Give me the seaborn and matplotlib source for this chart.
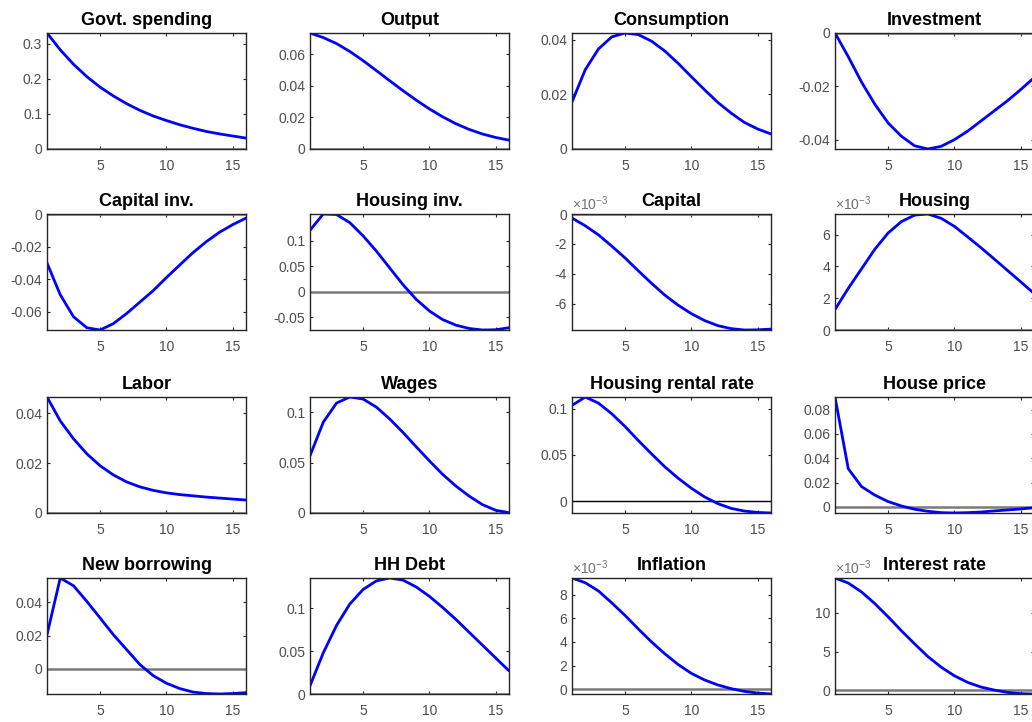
import seaborn as sns
import matplotlib.pyplot as plt
from matplotlib.ticker import FixedLocator, FuncFormatter

# impulse responses to a government spending shock, quarters 1..16
periods = list(range(1, 17))

govt_spending = [0.330, 0.282, 0.241, 0.206, 0.176, 0.151, 0.129, 0.110,
                 0.094, 0.081, 0.069, 0.059, 0.050, 0.043, 0.037, 0.031]
output = [0.0735, 0.0706, 0.0668, 0.0618, 0.0560, 0.0497, 0.0433, 0.0370,
          0.0310, 0.0254, 0.0204, 0.0160, 0.0124, 0.0095, 0.0073, 0.0056]
consumption = [0.0172, 0.029, 0.0366, 0.041, 0.0424, 0.0418, 0.0394, 0.0358,
               0.0313, 0.0264, 0.0216, 0.017, 0.0131, 0.0097, 0.0073, 0.0055]
investment = [0.0, -0.0089, -0.0184, -0.0267, -0.0337, -0.0387, -0.0423, -0.0435,
              -0.0425, -0.0400, -0.0368, -0.0330, -0.0292, -0.0254, -0.0212, -0.0168]
capital_inv = [-0.0300, -0.0495, -0.0630, -0.0697, -0.0711, -0.0672, -0.0610, -0.0540,
               -0.0470, -0.0390, -0.0313, -0.0237, -0.0170, -0.0112, -0.0065, -0.0025]
housing_inv = [0.121, 0.153, 0.152, 0.136, 0.110, 0.080, 0.047, 0.014,
               -0.015, -0.038, -0.055, -0.066, -0.0725, -0.0755, -0.075, -0.071]
capital = [-0.00027, -0.00079, -0.0014, -0.00215, -0.00294, -0.0038, -0.00464, -0.00543,
           -0.0061, -0.00667, -0.00713, -0.00747, -0.00767, -0.00776, -0.00775, -0.0077]
housing = [0.00129, 0.00262, 0.00385, 0.00508, 0.0061, 0.00682, 0.00723, 0.0073,
           0.00703, 0.00652, 0.00586, 0.00518, 0.00447, 0.00375, 0.00303, 0.0023]
labor = [0.0466, 0.0370, 0.0298, 0.0238, 0.0190, 0.0153, 0.0125, 0.0105,
         0.0091, 0.0081, 0.0074, 0.0069, 0.0064, 0.0060, 0.0056, 0.0052]
wages = [0.0567, 0.090, 0.109, 0.115, 0.113, 0.105, 0.0933, 0.080,
         0.0657, 0.0517, 0.0383, 0.0267, 0.0167, 0.0083, 0.0027, 0.0003]
rental_rate = [0.1036, 0.1127, 0.106, 0.0945, 0.0807, 0.0655, 0.051, 0.037,
               0.0247, 0.0138, 0.0044, -0.0029, -0.008, -0.0109, -0.0124, -0.013]
house_price = [0.0903, 0.0314, 0.0167, 0.0097, 0.0044, 0.0008, -0.0019, -0.0036,
               -0.0047, -0.0050, -0.0047, -0.0042, -0.0033, -0.0025, -0.0017, -0.0006]
new_borrowing = [0.0205, 0.0547, 0.050, 0.0406, 0.0306, 0.0205, 0.0115, 0.0025,
                 -0.0042, -0.0088, -0.012, -0.0141, -0.015, -0.0153, -0.015, -0.0145]
hh_debt = [0.0096, 0.048, 0.080, 0.105, 0.122, 0.132, 0.1354, 0.133,
           0.125, 0.114, 0.101, 0.087, 0.072, 0.057, 0.042, 0.027]
inflation = [0.0094, 0.0090, 0.0083, 0.0073, 0.00624, 0.0051, 0.0040, 0.0030,
             0.0021, 0.00135, 0.00079, 0.00037, 0.00006, -0.00017, -0.00031, -0.00039]
interest_rate = [0.0145, 0.01385, 0.0127, 0.0112, 0.0095, 0.0077, 0.0060, 0.00436,
                 0.0030, 0.00188, 0.00103, 0.00043, 0.00004, -0.00026, -0.00043, -0.00047]

titles = ["Govt. spending", "Output", "Consumption", "Investment",
          "Capital inv.", "Housing inv.", "Capital", "Housing",
          "Labor", "Wages", "Housing rental rate", "House price",
          "New borrowing", "HH Debt", "Inflation", "Interest rate"]
series = [govt_spending, output, consumption, investment,
          capital_inv, housing_inv, capital, housing,
          labor, wages, rental_rate, house_price,
          new_borrowing, hh_debt, inflation, interest_rate]
yticks = [[0, 0.1, 0.2, 0.3], [0, 0.02, 0.04, 0.06], [0, 0.02, 0.04], [-0.04, -0.02, 0],
          [-0.06, -0.04, -0.02, 0], [-0.05, 0, 0.05, 0.1], [-0.006, -0.004, -0.002, 0],
          [0, 0.002, 0.004, 0.006],
          [0, 0.02, 0.04], [0, 0.05, 0.1], [0, 0.05, 0.1], [0, 0.02, 0.04, 0.06, 0.08],
          [0, 0.02, 0.04], [0, 0.05, 0.1], [0, 0.002, 0.004, 0.006, 0.008], [0, 0.005, 0.01]]
xticks = [5, 10, 15]
scaled = {"Capital", "Housing", "Inflation", "Interest rate"}  # shown as x10^-3

sns.set_style("ticks")
plt.rcParams["font.family"] = ["Liberation Sans", "DejaVu Sans"]
plt.rcParams["axes.unicode_minus"] = False
plt.rcParams["mathtext.fontset"] = "custom"
plt.rcParams["mathtext.rm"] = "Liberation Sans"

AX_COL = "#262626"
LBL_COL = "#4d4d4d"

fig = plt.figure(figsize=(10.32, 7.22), dpi=100)
lefts = [47, 310, 572, 835]
tops = [33, 214, 397, 578]
w, h = 199, 116

for i, (title, vals, yt) in enumerate(zip(titles, series, yticks)):
    r, c = divmod(i, 4)
    ax = fig.add_axes([lefts[c] / 1032, 1 - (tops[r] + h) / 722, w / 1032, h / 722])

    zcol = "black" if title == "Housing rental rate" else "#7a7a7a"
    zlw = 1.0 if title == "Housing rental rate" else 1.8
    ax.axhline(0, color=zcol, lw=zlw, zorder=1)
    sns.lineplot(x=periods, y=vals, ax=ax, color="blue", lw=2, zorder=2)

    ax.set_xlim(1, 16)
    ax.set_ylim(min(min(vals), 0), max(max(vals), 0))
    ax.xaxis.set_major_locator(FixedLocator(xticks))
    ax.yaxis.set_major_locator(FixedLocator(yt))
    if title in scaled:
        ax.yaxis.set_major_formatter(FuncFormatter(lambda v, p: f"{round(v * 1000, 6):g}"))
        ax.text(0, 1.01, r"×10$^{\mathregular{-3}}$", transform=ax.transAxes,
                ha="left", va="bottom", fontsize=10, color="#707070")
    else:
        ax.yaxis.set_major_formatter(FuncFormatter(lambda v, p: f"{round(v, 6):g}"))

    ax.tick_params(direction="in", length=2.5, width=0.8, color=AX_COL,
                   top=True, right=True, labelsize=10, labelcolor=LBL_COL)
    ax.tick_params(axis="y", pad=3.5)
    ax.tick_params(axis="x", pad=7)
    for sp in ax.spines.values():
        sp.set_color(AX_COL)
        sp.set_linewidth(1.0)
    ax.set_xlabel("")
    ax.set_ylabel("")
    ax.set_title(title, fontsize=13, fontweight="bold", color="black", pad=6)

plt.savefig("out.png", dpi=100)
